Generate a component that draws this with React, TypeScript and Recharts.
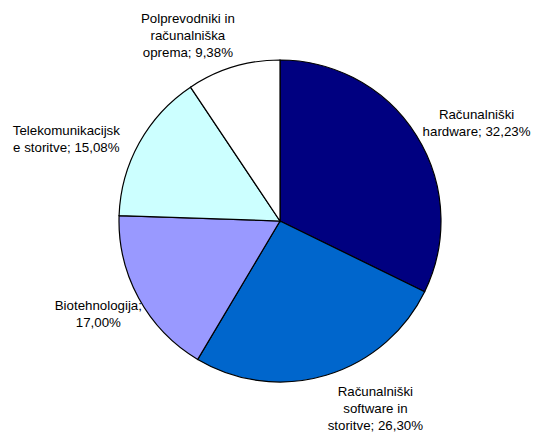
import React from 'react';
import { PieChart, Pie, Cell } from 'recharts';

// sectors, clockwise from 12 o'clock
const categories = [
  'Računalniški hardware',
  'Računalniški software in storitve',
  'Biotehnologija',
  'Telekomunikacijske storitve',
  'Polprevodniki in računalniška oprema',
];
const shares = [32.23, 26.3, 17.0, 15.08, 9.38];
const colors = ['#000080', '#0066CC', '#9999FF', '#CCFFFF', '#FFFFFF'];

// label text as wrapped in the original, {v} = value
const labelLines = [
  ['Računalniški', 'hardware; {v}'],
  ['Računalniški', 'software in', 'storitve; {v}'],
  ['Biotehnologija;', '{v}'],
  ['Telekomunikacijsk', 'e storitve; {v}'],
  ['Polprevodniki in', 'računalniška', 'oprema; {v}'],
];
// label placement tweaks relative to slice mid angle
const labelAngleShift = [-5.3, 10.4, -1.6, 8, 9.4];
const labelDistance = [59, 49, 43, 68, 47];

const RADIAN = Math.PI / 180;
const LINE_H = 17;

const data = categories.map((name, i) => ({ name, value: shares[i] }));

const formatPct = (v: number) => v.toFixed(2).replace('.', ',') + '%';

const renderLabel = (props: any) => {
  const { cx, cy, midAngle, outerRadius, index } = props;
  const a = (midAngle + labelAngleShift[index]) * RADIAN;
  const r = outerRadius + labelDistance[index];
  const x = cx + r * Math.cos(a);
  const y = cy - r * Math.sin(a);
  const lines = labelLines[index].map((l) => l.replace('{v}', formatPct(shares[index])));
  const top = y - ((lines.length - 1) * LINE_H) / 2;
  return (
    <text
      key={'lbl-' + index}
      x={x}
      y={top}
      textAnchor="middle"
      fontFamily="'Liberation Sans', Arial, sans-serif"
      fontSize={13.3}
      fill="#000"
    >
      {lines.map((l, j) => (
        <tspan key={j} x={x} y={top + j * LINE_H + 5}>
          {l}
        </tspan>
      ))}
    </text>
  );
};

export default function App() {
  return (
    <div style={{ position: 'absolute', left: 0, top: 0, width: 533, height: 432, background: '#fff' }}>
      <PieChart width={533} height={432} margin={{ top: 0, right: 0, bottom: 0, left: 0 }}>
        <Pie
          data={data}
          dataKey="value"
          nameKey="name"
          cx={280}
          cy={221}
          outerRadius={161}
          startAngle={90}
          endAngle={-270}
          stroke="#000"
          strokeWidth={1.2}
          label={renderLabel}
          labelLine={false}
          isAnimationActive={false}
        >
          {data.map((d, i) => (
            <Cell key={d.name} fill={colors[i]} />
          ))}
        </Pie>
      </PieChart>
    </div>
  );
}
